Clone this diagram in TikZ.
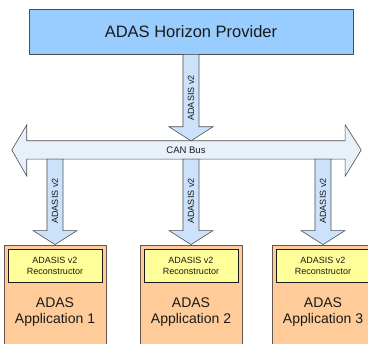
\documentclass[tikz,border=0pt]{standalone}
\usepackage{fontspec}
\setmainfont{Liberation Sans}
\usetikzlibrary{positioning,calc}
\definecolor{provblue}{HTML}{99CCFF}
\definecolor{arrowblue}{HTML}{CCE2FA}
\definecolor{busblue}{HTML}{E8F0FA}
\definecolor{apporange}{HTML}{FFCC99}
\definecolor{reconyellow}{HTML}{FFFF99}
\definecolor{edgegrey}{HTML}{4D4D4D}
\definecolor{inkgrey}{HTML}{1A1A1A}
% block arrow from a shaft start down to a tip
\newcommand{\blockdown}[2]{%
    \draw[blockarrow] let \p1=(#1), \p2=(#2) in
    (\x1-8pt,\y1) -- (\x1-8pt,\y2+14pt) -- (\x1-22pt,\y2+14pt) -- (\x2,\y2)
    -- (\x1+22pt,\y2+14pt) -- (\x1+8pt,\y2+14pt) -- (\x1+8pt,\y1) -- cycle;}
\tikzset{
    provbox/.style={draw=edgegrey,line width=0.8pt,fill=provblue,minimum width=324pt,minimum height=45pt,
        text=inkgrey,font=\fontsize{16.5}{19}\selectfont},
    appbox/.style={draw=edgegrey!80!brown,line width=0.8pt,fill=apporange,minimum width=102pt,minimum height=110pt},
    reconbox/.style={draw=inkgrey,line width=0.7pt,fill=reconyellow,minimum width=94pt,minimum height=33pt,
        inner sep=0pt,align=center,text=inkgrey,font=\fontsize{9}{11}\selectfont},
    apptext/.style={align=center,inner sep=0pt,text=inkgrey,font=\fontsize{14}{16}\selectfont},
    blockarrow/.style={draw=edgegrey,line width=0.6pt,fill=arrowblue,line join=miter},
    busarrow/.style={draw=edgegrey,line width=0.6pt,fill=busblue,line join=miter},
    buslabel/.style={inner sep=0pt,text=inkgrey,font=\fontsize{9}{11}\selectfont},
    busbar/.style={inner sep=0pt,minimum width=318pt,minimum height=18pt,text=inkgrey,font=\fontsize{9.5}{11}\selectfont},
}
\begin{document}
\begin{tikzpicture}[x=1pt,y=-1pt]
    \clip (0,0) rectangle (368,344);
    \fill[white] (0,0) rectangle (368,344);

    \node[provbox] (prov) at (191,31.5) {ADAS Horizon Provider};

    % CAN bus
    \node[busbar] (bus) at (186,150) {};
    \draw[busarrow] (bus.north west) -- (bus.north east) -- ($(bus.north east)+(0,-16)$)
        -- ($(bus.east)+(16,0)$) -- ($(bus.south east)+(0,17)$) -- (bus.south east)
        -- (bus.south west) -- ($(bus.south west)+(0,17)$) -- ($(bus.west)+(-15,0)$)
        -- ($(bus.north west)+(0,-16)$) -- cycle;
    \node[buslabel,font=\fontsize{9.5}{11}\selectfont] (buslbl) at (bus) {CAN Bus};

    \coordinate (provtip) at (bus.north -| prov.south);
    \blockdown{prov.south}{provtip}
    \node[buslabel,rotate=90] (lbl0) at (191,98) {ADASIS v2};

    \foreach \i/\xpos in {1/55,2/191,3/323} {
        \node[appbox] (app\i) at (\xpos,300) {};
        \node[reconbox] (rec\i) at (\xpos,265.5) {ADASIS v2\\Reconstructor};
        \node[apptext] (txt\i) at (\xpos,312) {ADAS\\Application \i};
        \coordinate (tap\i) at (bus.south -| app\i.north);
        \blockdown{tap\i}{app\i.north}
        \node[buslabel,rotate=90] (lbl\i) at (\xpos,201) {ADASIS v2};
    }
\end{tikzpicture}
\end{document}
